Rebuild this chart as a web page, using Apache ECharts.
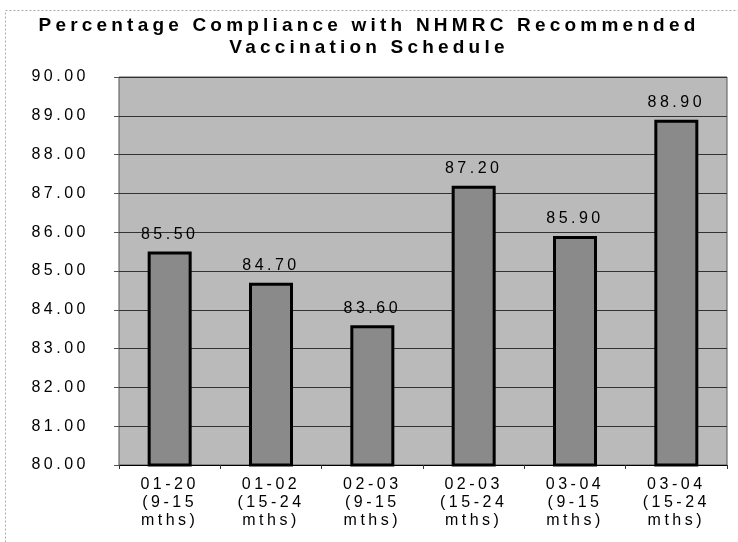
<!DOCTYPE html>
<html>
<head>
<meta charset="utf-8">
<script src="https://cdn.jsdelivr.net/npm/echarts@6/dist/echarts.min.js"></script>
<style>
html,body{margin:0;padding:0;background:#fff;}
#chart{width:738px;height:542px;}
</style>
</head>
<body>
<div id="chart"></div>
<script>
// Data
const titleText = 'Percentage Compliance with NHMRC Recommended\nVaccination Schedule';
const categories = ['01-20\n(9-15\nmths)', '01-02\n(15-24\nmths)', '02-03\n(9-15\nmths)', '02-03\n(15-24\nmths)', '03-04\n(9-15\nmths)', '03-04\n(15-24\nmths)'];
const values = [85.50, 84.70, 83.60, 87.20, 85.90, 88.90];
const yMin = 80, yMax = 90, yStep = 1;

// Wide letter spacing like the scanned original
(function(){
  const proto = CanvasRenderingContext2D.prototype;
  const orig = proto.fillText;
  proto.fillText = function(t, x, y, m){
    if ('letterSpacing' in this) {
      this.letterSpacing = /bold/.test(this.font) ? '4.2px' : '3.5px';
    }
    return m === undefined ? orig.call(this, t, x, y) : orig.call(this, t, x, y, m);
  };
})();

const chart = echarts.init(document.getElementById('chart'), null, {renderer: 'canvas'});
const font = '"Liberation Sans", Arial, sans-serif';
chart.setOption({
  backgroundColor: '#ffffff',
  animation: false,
  title: {
    text: titleText,
    left: 'center',
    top: 10,
    textStyle: {fontFamily: font, fontSize: 19, fontWeight: 'bold', color: '#000', lineHeight: 22}
  },
  graphic: [{
    type: 'rect', shape: {x: 5.5, y: 10.5, width: 760, height: 560},
    style: {fill: 'none', stroke: '#aaa', lineWidth: 1, lineDash: [2, 2]}, silent: true
  }],
  grid: {
    left: 119, right: 11, top: 77, bottom: 77,
    show: true, backgroundColor: '#bababa', borderColor: '#555', borderWidth: 1
  },
  xAxis: {
    type: 'category',
    data: categories,
    axisLine: {show: true, lineStyle: {color: '#000', width: 1}},
    axisTick: {show: true, length: 4, lineStyle: {color: '#333'}},
    axisLabel: {fontFamily: font, fontSize: 16, color: '#000', margin: 11, lineHeight: 18, interval: 0}
  },
  yAxis: {
    type: 'value',
    min: yMin, max: yMax, interval: yStep,
    axisLine: {show: false},
    axisTick: {show: true, length: 5, lineStyle: {color: '#555'}},
    splitLine: {show: true, lineStyle: {color: '#333', width: 1}},
    axisLabel: {fontFamily: font, fontSize: 16, color: '#000', margin: 30, formatter: v => v.toFixed(2)}
  },
  series: [{
    type: 'bar',
    data: values,
    barWidth: 44,
    itemStyle: {color: '#8a8a8a', borderColor: '#000', borderWidth: 3},
    label: {
      show: true, position: 'top', distance: 9,
      fontFamily: font, fontSize: 16, color: '#000',
      formatter: p => p.value.toFixed(2)
    }
  }]
});
</script>
</body>
</html>
